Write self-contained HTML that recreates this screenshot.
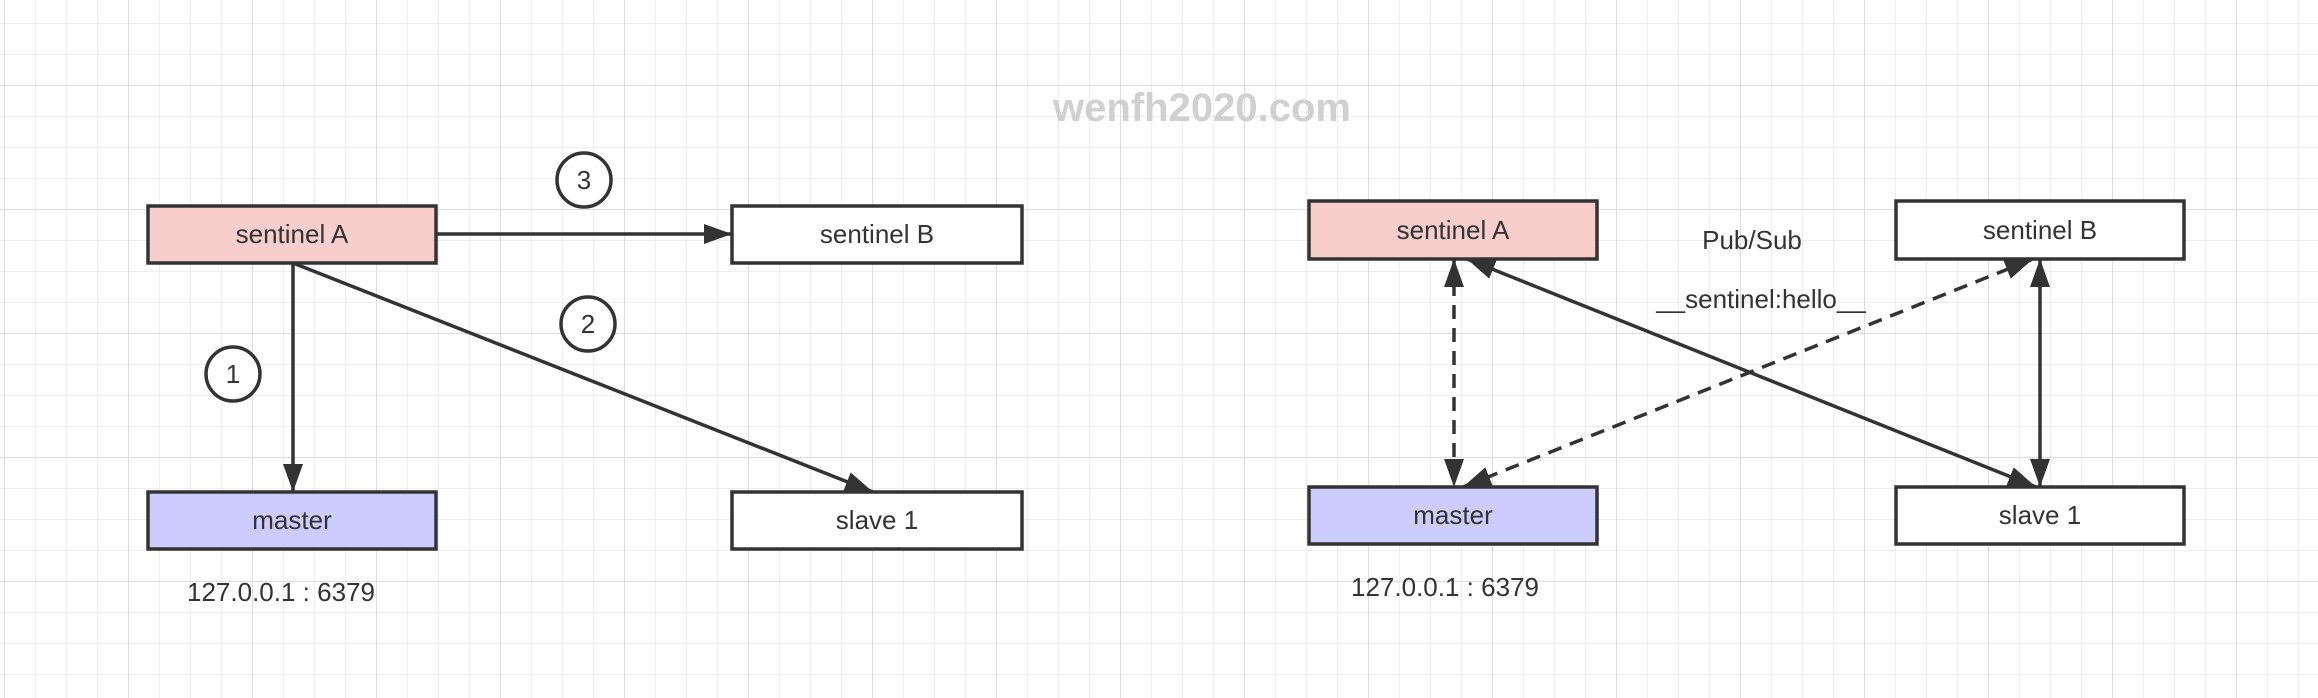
<!DOCTYPE html>
<html><head><meta charset="utf-8"><style>
html,body{margin:0;padding:0;background:#fff;}
svg{display:block;}
text{font-family:"Liberation Sans",sans-serif;fill:#333;}
</style></head><body>
<svg width="2318" height="698" viewBox="0 0 2318 698" xmlns="http://www.w3.org/2000/svg">
<defs>
<pattern id="minor" x="4" y="23" width="31" height="31" patternUnits="userSpaceOnUse">
<path d="M0 0H31M0 0V31" stroke="#e9e9e9" stroke-width="1.5" fill="none"/>
</pattern>
<pattern id="major" x="4" y="85" width="124" height="124" patternUnits="userSpaceOnUse">
<path d="M0 0H124M0 0V124" stroke="#dcdcdc" stroke-width="2" fill="none"/>
</pattern>
<marker id="a" viewBox="0 0 10 10" refX="10" refY="5" markerWidth="28" markerHeight="20" markerUnits="userSpaceOnUse" orient="auto-start-reverse" preserveAspectRatio="none">
<path d="M0 0L10 5L0 10z" fill="#333"/>
</marker>
</defs>
<rect width="2318" height="698" fill="#fff"/>
<rect width="2318" height="698" fill="url(#minor)"/>
<rect width="2318" height="698" fill="url(#major)"/>

<text x="1202" y="121" font-size="40" font-weight="bold" text-anchor="middle" style="fill:#d0d0d0">wenfh2020.com</text>

<g stroke="#333" stroke-width="3.5" fill="none">
<line x1="436" y1="234" x2="732" y2="234" marker-end="url(#a)"/>
<line x1="293" y1="263" x2="293" y2="492" marker-end="url(#a)"/>
<line x1="293" y1="263" x2="873" y2="492" marker-end="url(#a)"/>
<line x1="1454" y1="259" x2="1454" y2="487" stroke-dasharray="14,9" marker-start="url(#a)" marker-end="url(#a)"/>
<line x1="1463" y1="487" x2="2033" y2="259" stroke-dasharray="14,9" marker-start="url(#a)" marker-end="url(#a)"/>
<line x1="1467" y1="259" x2="2036" y2="487" marker-start="url(#a)" marker-end="url(#a)"/>
<line x1="2040" y1="259" x2="2040" y2="487" marker-start="url(#a)" marker-end="url(#a)"/>
</g>

<g stroke="#333" stroke-width="3.5">
<rect x="148" y="206" width="288" height="57" fill="#f8cecc"/>
<rect x="732" y="206" width="290" height="57" fill="#fff"/>
<rect x="148" y="492" width="288" height="57" fill="#ccccff"/>
<rect x="732" y="492" width="290" height="57" fill="#fff"/>
<rect x="1309" y="201" width="288" height="58" fill="#f8cecc"/>
<rect x="1896" y="201" width="288" height="58" fill="#fff"/>
<rect x="1309" y="487" width="288" height="57" fill="#ccccff"/>
<rect x="1896" y="487" width="288" height="57" fill="#fff"/>
</g>

<g stroke="#333" stroke-width="3.5" fill="#fff">
<circle cx="584" cy="180" r="27"/>
<circle cx="588" cy="324" r="27"/>
<circle cx="233" cy="374" r="27"/>
</g>

<g font-size="26" text-anchor="middle">
<text x="584" y="189">3</text>
<text x="588" y="333">2</text>
<text x="233" y="383">1</text>
<text x="292" y="243">sentinel A</text>
<text x="877" y="243">sentinel B</text>
<text x="292" y="529">master</text>
<text x="877" y="529">slave 1</text>
<text x="1453" y="239">sentinel A</text>
<text x="2040" y="239">sentinel B</text>
<text x="1453" y="524">master</text>
<text x="2040" y="524">slave 1</text>
<text x="1752" y="249">Pub/Sub</text>
<text x="1761" y="308">__sentinel:hello__</text>
<text x="281" y="601">127.0.0.1 : 6379</text>
<text x="1445" y="596">127.0.0.1 : 6379</text>
</g>
</svg>
</body></html>
